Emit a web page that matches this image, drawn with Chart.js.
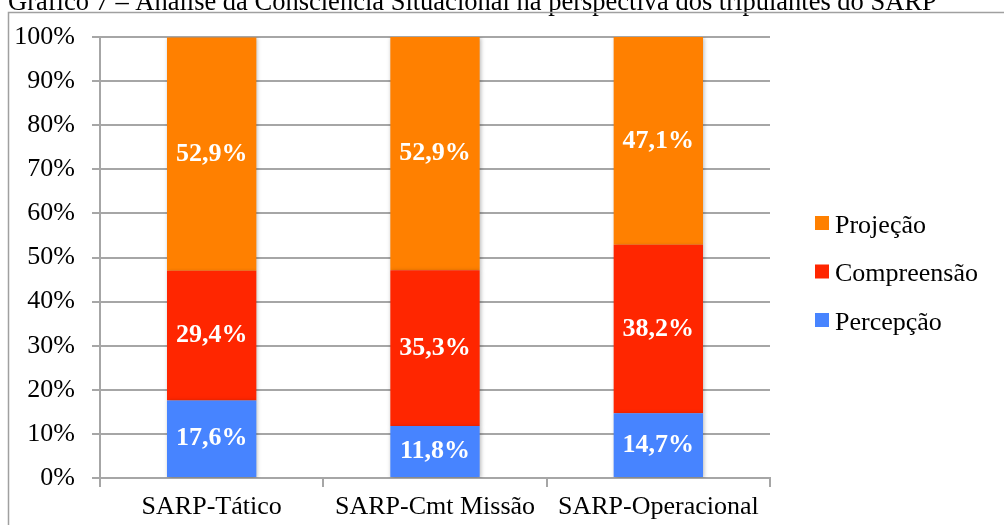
<!DOCTYPE html>
<html>
<head>
<meta charset="utf-8">
<script src="https://cdn.jsdelivr.net/npm/chart.js@4"></script>
<style>
  html, body { margin: 0; padding: 0; background: #fff; }
  #wrap { width: 1004px; height: 525px; position: relative; }
</style>
</head>
<body>
<div id="wrap"><canvas id="chart"></canvas></div>
<script>
// Data
const categories = ['SARP-Tático', 'SARP-Cmt Missão', 'SARP-Operacional'];
const percepcao = [17.6, 11.8, 14.7];
const compreensao = [29.4, 35.3, 38.2];
const projecao = [52.9, 52.9, 47.1];
const yTicks = [0, 10, 20, 30, 40, 50, 60, 70, 80, 90, 100];
const titleText = 'Gráfico 7 – Análise da Consciência Situacional na perspectiva dos tripulantes do SARP';

// Palette
const colors = {
    blue: '#4784ff',
    red: '#ff2600',
    orange: '#ff8000',
    grid: '#a6a6a6',
    frame: '#a0a0a0',
    text: '#000'
};
const serif = "'Liberation Serif', 'Times New Roman', serif";

// Frame + clipped title behind the chart
const framePlugin = {
    id: 'frame',
    beforeDraw(chart) {
        const { ctx } = chart;
        ctx.save();
        ctx.fillStyle = '#fff';
        ctx.fillRect(0, 0, chart.width, chart.height);
        ctx.fillStyle = colors.text;
        ctx.font = '26.5px ' + serif;
        ctx.textBaseline = 'alphabetic';
        ctx.fillText(titleText, 8, 9.5);
        ctx.strokeStyle = colors.frame;
        ctx.lineWidth = 1.5;
        ctx.strokeRect(8.5, 12.5, 1010, 530);
        ctx.restore();
    }
};

// Soft bar shadow
const shadowPlugin = {
    id: 'barShadow',
    beforeDatasetsDraw(chart) {
        const { ctx } = chart;
        ctx.save();
        ctx.shadowColor = 'rgba(0,0,0,0.28)';
        ctx.shadowBlur = 4;
        ctx.shadowOffsetX = 1;
        ctx.shadowOffsetY = 1;
    },
    afterDatasetsDraw(chart) {
        chart.ctx.restore();
    }
};

// Value labels inside segments + legend on the right
const labelPlugin = {
    id: 'segLabels',
    afterDatasetsDraw(chart) {
        const { ctx } = chart;
        ctx.save();
        ctx.fillStyle = '#fff';
        ctx.font = 'bold 26px ' + serif;
        ctx.textAlign = 'center';
        ctx.textBaseline = 'middle';
        chart.data.datasets.forEach((ds, di) => {
            const meta = chart.getDatasetMeta(di);
            meta.data.forEach((bar, i) => {
                const v = ds.data[i];
                const txt = v.toFixed(1).replace('.', ',') + '%';
                ctx.fillText(txt, bar.x, (bar.y + bar.base) / 2);
            });
        });

        // legend, top item = last dataset
        const items = chart.data.datasets.slice().reverse();
        const lx = 815, ly0 = 226, step = 48.5;
        ctx.font = '26px ' + serif;
        ctx.textAlign = 'left';
        items.forEach((ds, k) => {
            const cy = ly0 + k * step;
            ctx.fillStyle = ds.backgroundColor;
            ctx.fillRect(lx, cy - 10, 14, 14);
            ctx.fillStyle = colors.text;
            ctx.fillText(ds.label, lx + 20, cy);
        });
        ctx.restore();
    }
};

new Chart(document.getElementById('chart'), {
    type: 'bar',
    data: {
        labels: categories,
        datasets: [
            { label: 'Percepção', data: percepcao, backgroundColor: colors.blue },
            { label: 'Compreensão', data: compreensao, backgroundColor: colors.red },
            { label: 'Projeção', data: projecao, backgroundColor: colors.orange }
        ]
    },
    options: {
        responsive: true,
        maintainAspectRatio: false,
        animation: false,
        datasets: { bar: { barPercentage: 0.4, categoryPercentage: 1, borderWidth: 0 } },
        layout: { padding: { top: 37, right: 234, bottom: 0, left: 0 } },
        plugins: {
            legend: { display: false },
            tooltip: { enabled: false }
        },
        scales: {
            x: {
                stacked: true,
                grid: { drawOnChartArea: false, offset: true, color: colors.grid, lineWidth: 2, tickLength: 9 },
                border: { display: true, color: colors.grid, width: 2 },
                ticks: { color: colors.text, font: { family: serif, size: 26 }, padding: 5, maxRotation: 0 },
                afterFit: s => { s.height = 47; }
            },
            y: {
                stacked: true,
                min: 0,
                max: 100,
                afterBuildTicks: s => { s.ticks = yTicks.map(v => ({ value: v })); },
                grid: { color: colors.grid, lineWidth: 2, tickLength: 8 },
                border: { display: true, color: colors.grid, width: 2 },
                ticks: {
                    color: colors.text,
                    font: { family: serif, size: 26 },
                    padding: 17,
                    callback: v => v + '%'
                },
                afterFit: s => { s.width = 100; }
            }
        }
    },
    plugins: [framePlugin, shadowPlugin, labelPlugin]
});
</script>
</body>
</html>
